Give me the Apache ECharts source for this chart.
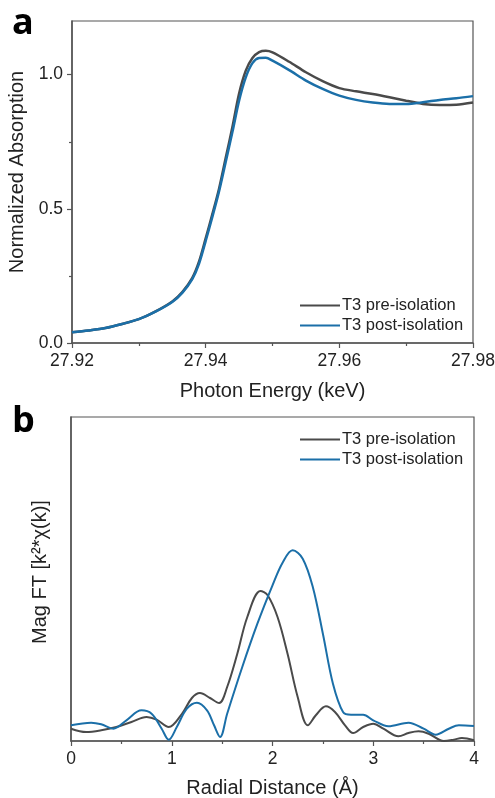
<!DOCTYPE html>
<html>
<head>
<meta charset="utf-8">
<script src="https://cdn.jsdelivr.net/npm/echarts@6/dist/echarts.min.js"></script>
<style>
  html, body { margin: 0; padding: 0; background: #fff; }
  #main { width: 495px; height: 798px; }
</style>
</head>
<body>
<div id="main"></div>
<script>
// Panel a - XANES
let energy = [27.92, 27.9225, 27.925, 27.9275, 27.93, 27.9325, 27.935, 27.9365, 27.938, 27.939, 27.94, 27.941, 27.942, 27.943, 27.944, 27.945, 27.946, 27.947, 27.948, 27.949, 27.95, 27.9525, 27.955, 27.9575, 27.96, 27.9625, 27.965, 27.9675, 27.97, 27.9725, 27.975, 27.9775, 27.98]
let preAbs = [0.040, 0.047, 0.056, 0.071, 0.089, 0.118, 0.155, 0.19, 0.243, 0.303, 0.39, 0.48, 0.575, 0.69, 0.805, 0.93, 1.015, 1.062, 1.084, 1.089, 1.083, 1.048, 1.009, 0.976, 0.950, 0.938, 0.928, 0.916, 0.903, 0.891, 0.887, 0.888, 0.896]
let postAbs = [0.040, 0.047, 0.056, 0.071, 0.089, 0.117, 0.153, 0.187, 0.238, 0.295, 0.38, 0.47, 0.565, 0.675, 0.786, 0.903, 0.99, 1.043, 1.062, 1.063, 1.052, 1.017, 0.978, 0.947, 0.922, 0.906, 0.896, 0.891, 0.891, 0.897, 0.906, 0.912, 0.920]
let energyTicks = [27.92, 27.94, 27.96, 27.98]
let absTicks = [0, 0.5, 1.0]

// Panel b - FT magnitude (arbitrary units)
let preR = [0, 0.15, 0.3, 0.45, 0.6, 0.75, 0.85, 0.97, 1.1, 1.2, 1.28, 1.38, 1.47, 1.55, 1.65, 1.75, 1.88, 1.95, 2.05, 2.15, 2.25, 2.35, 2.43, 2.53, 2.62, 2.72, 2.8, 2.9, 3.0, 3.1, 3.25, 3.35, 3.45, 3.55, 3.7, 3.8, 3.88, 4.0]
let preMag = [12.3, 9, 10.7, 14, 19, 24, 21.3, 14, 27, 43, 48, 43, 38, 54, 87, 124, 150, 146, 124, 87, 44, 15.7, 25.7, 34.7, 29, 15.7, 8, 14, 17.3, 12.3, 4.7, 8, 9.7, 7.3, 0, 1.3, 3, 0.7]
let postR = [0, 0.2, 0.3, 0.42, 0.55, 0.7, 0.8, 0.9, 0.97, 1.05, 1.15, 1.25, 1.35, 1.42, 1.48, 1.55, 1.7, 1.85, 2.0, 2.1, 2.2, 2.3, 2.4, 2.5, 2.6, 2.7, 2.78, 2.9, 3.0, 3.15, 3.35, 3.5, 3.62, 3.75, 3.85, 4.0]
let postMag = [15.7, 18.3, 16.7, 12.3, 20.7, 30.7, 27.3, 12.3, 1.3, 14, 32.3, 38.3, 30.7, 15.7, 4, 27.3, 74, 117.3, 155.7, 178.3, 190.7, 182.3, 154, 107.3, 57.3, 29, 26.3, 26.3, 20.7, 14.7, 18.3, 12.3, 6.3, 12.3, 15.7, 15]

let names = ['T3 pre-isolation', 'T3 post-isolation']
let colors = ['#4a4a4a', '#1b6fa8']

function pairs(xs, ys) {
  let out = []
  for (let i = 0; i < xs.length; i++) out.push([xs[i], ys[i]])
  return out
}

const font = 'Liberation Sans'
const axisColor = '#555'
const textColor = '#222'
const tickFont = 17.5
const titleFont = 20

let myChart = echarts.init(document.getElementById('main'), null, { renderer: 'canvas' })

// legend with plain line icon (no marker)
function makeLegend(top) {
  return {
    data: names,
    orient: 'vertical',
    left: 294,
    top: top,
    itemWidth: 40,
    itemHeight: 14,
    itemGap: 3,
    itemStyle: { opacity: 0 },
    textStyle: { fontSize: 16.5, color: textColor, fontFamily: font, padding: [0, 0, 0, -3] },
  }
}

let option = {
  animation: false,
  textStyle: { fontFamily: font },
  grid: [
    { left: 72, top: 21, width: 401, height: 322, outerBoundsMode: 'none', show: true, borderColor: axisColor, borderWidth: 1.2 },
    { left: 71, top: 417, width: 403, height: 324, outerBoundsMode: 'none', show: true, borderColor: axisColor, borderWidth: 1.2 },
  ],
  xAxis: [
    {
      gridIndex: 0,
      type: 'value',
      min: 27.92,
      max: 27.98,
      interval: 0.02,
      name: 'Photon Energy (keV)',
      nameLocation: 'middle',
      nameGap: 38,
      nameTextStyle: { fontSize: titleFont, color: textColor, fontFamily: font },
      axisLine: { lineStyle: { color: axisColor, width: 1.5 } },
      axisTick: { show: true, length: 5, lineStyle: { color: axisColor, width: 1.2 } },
      minorTick: { show: true, splitNumber: 2, length: 3, lineStyle: { color: axisColor, width: 1.2 } },
      axisLabel: { fontSize: tickFont, color: textColor, margin: 9, fontFamily: font, customValues: energyTicks, formatter: v => v.toFixed(2) },
      splitLine: { show: false },
    },
    {
      gridIndex: 1,
      type: 'value',
      min: 0,
      max: 4,
      interval: 1,
      name: 'Radial Distance (Å)',
      nameLocation: 'middle',
      nameGap: 37,
      nameTextStyle: { fontSize: titleFont, color: textColor, fontFamily: font },
      axisLine: { lineStyle: { color: axisColor, width: 1.5 } },
      axisTick: { show: true, length: 5, lineStyle: { color: axisColor, width: 1.2 } },
      minorTick: { show: true, splitNumber: 2, length: 3, lineStyle: { color: axisColor, width: 1.2 } },
      axisLabel: { fontSize: tickFont, color: textColor, margin: 9, fontFamily: font },
      splitLine: { show: false },
    },
  ],
  yAxis: [
    {
      gridIndex: 0,
      type: 'value',
      min: 0,
      max: 1.2,
      interval: 0.5,
      name: 'Normalized Absorption',
      nameLocation: 'middle',
      nameGap: 40,
      nameTextStyle: { fontSize: titleFont, color: textColor, fontFamily: font, padding: [0, 0, 0, 20] },
      axisLine: { show: true, lineStyle: { color: axisColor, width: 1.5 } },
      axisTick: { show: true, length: 5, customValues: absTicks, lineStyle: { color: axisColor, width: 1.2 } },
      minorTick: { show: true, splitNumber: 2, length: 3, lineStyle: { color: axisColor, width: 1.2 } },
      axisLabel: { fontSize: tickFont, color: textColor, margin: 9, fontFamily: font, customValues: absTicks, formatter: v => v.toFixed(1) },
      splitLine: { show: false },
    },
    {
      gridIndex: 1,
      type: 'value',
      min: 0,
      max: 324,
      name: 'Mag FT [k²*χ(k)]',
      nameLocation: 'middle',
      nameGap: 21,
      nameTextStyle: { fontSize: titleFont, color: textColor, fontFamily: font, padding: [0, 0, 0, 14] },
      axisLine: { show: true, lineStyle: { color: axisColor, width: 1.5 } },
      axisTick: { show: false },
      axisLabel: { show: false },
      splitLine: { show: false },
    },
  ],
  legend: [makeLegend(292), makeLegend(426)],
  graphic: [
    { type: 'text', left: 12, top: 6, style: { text: 'a', fontSize: 36, fontWeight: 'bold', fontFamily: 'Open Sans', fill: '#000' } },
    { type: 'text', left: 12, top: 404, style: { text: 'b', fontSize: 36, fontWeight: 'bold', fontFamily: 'Open Sans', fill: '#000' } },
  ],
  series: [
    {
      name: names[0], type: 'line', xAxisIndex: 0, yAxisIndex: 0, smooth: 0.3, symbol: 'none',
      lineStyle: { color: colors[0], width: 2.5 }, itemStyle: { color: colors[0] }, z: 2,
      data: pairs(energy, preAbs),
    },
    {
      name: names[1], type: 'line', xAxisIndex: 0, yAxisIndex: 0, smooth: 0.3, symbol: 'none',
      lineStyle: { color: colors[1], width: 2.5 }, itemStyle: { color: colors[1] }, z: 3,
      data: pairs(energy, postAbs),
    },
    {
      name: names[0], type: 'line', xAxisIndex: 1, yAxisIndex: 1, smooth: 0.35, symbol: 'none',
      lineStyle: { color: colors[0], width: 2 }, itemStyle: { color: colors[0] }, z: 2,
      data: pairs(preR, preMag),
    },
    {
      name: names[1], type: 'line', xAxisIndex: 1, yAxisIndex: 1, smooth: 0.35, symbol: 'none',
      lineStyle: { color: colors[1], width: 2 }, itemStyle: { color: colors[1] }, z: 3,
      data: pairs(postR, postMag),
    },
  ],
}
myChart.setOption(option)
</script>
</body>
</html>
